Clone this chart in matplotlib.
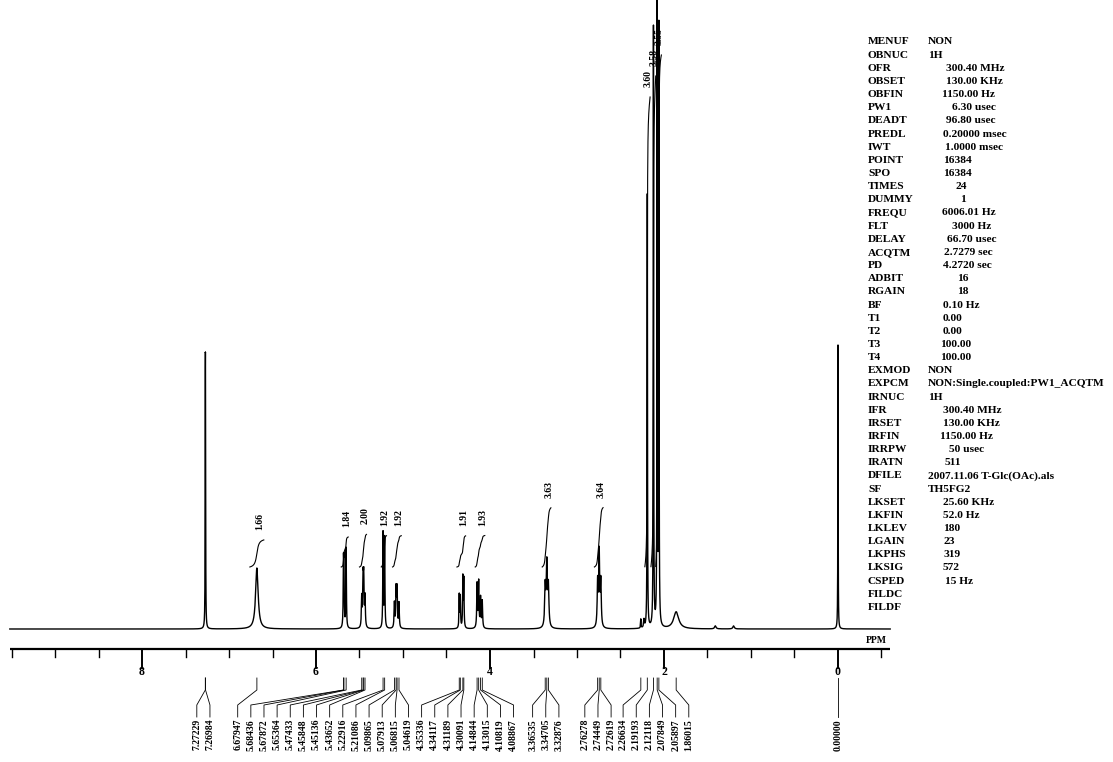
import numpy as np
import matplotlib
matplotlib.use("Agg")
import matplotlib.pyplot as plt

# ---------------- data ----------------
peak_ppm = [7.27229, 7.26984, 6.67947, 5.68436, 5.67872, 5.65364, 5.47433, 5.45848,
            5.45136, 5.43652, 5.22916, 5.21086, 5.09865, 5.07913, 5.06815, 5.04619,
            4.35336, 4.34117, 4.31189, 4.30091, 4.14844, 4.13015, 4.10819, 4.08867,
            3.36535, 3.34705, 3.32876, 2.76278, 2.74449, 2.72619, 2.26634, 2.19193,
            2.12118, 2.07849, 2.05897, 1.86015, 0.00000]
peak_height = [190, 190, 61, 58, 58, 80, 30, 45,
               45, 30, 95, 90, 25, 38, 38, 25,
               33, 31, 50, 48, 44, 46, 30, 27,
               40, 62, 40, 45, 74, 45, 9, 434,
               600, 624, 600, 17, 284]
peak_width = [0.004, 0.004, 0.035, 0.007, 0.007, 0.007, 0.009, 0.009,
              0.009, 0.009, 0.007, 0.007, 0.009, 0.009, 0.009, 0.009,
              0.007, 0.007, 0.007, 0.007, 0.009, 0.009, 0.009, 0.009,
              0.014, 0.014, 0.014, 0.012, 0.012, 0.012, 0.006, 0.005,
              0.005, 0.005, 0.005, 0.07, 0.004]
minor_ppm = [2.23, 1.41, 1.20]
minor_height = [8, 3, 3]
minor_width = [0.01, 0.02, 0.02]

int_start = [6.76, 5.71, 5.50, 5.25, 5.12, 4.38, 4.17, 3.40, 2.80, 2.22, 2.15, 2.095]
int_end = [6.60, 5.63, 5.42, 5.19, 5.02, 4.28, 4.06, 3.30, 2.70, 2.16, 2.095, 2.03]
int_value = [1.66, 1.84, 2.00, 1.92, 1.92, 1.91, 1.93, 3.63, 3.64, 3.60, 3.58, 3.55]
int_label = ["1.66", "1.84", "2.00", "1.92", "1.92", "1.91", "1.93", "3.63", "3.64",
             "3.60", "3.58", "3.55"]

major_ticks = [8, 6, 4, 2, 0]
major_labels = ["8", "6", "4", "2", "0"]

params_names = ["MENUF", "OBNUC", "OFR", "OBSET", "OBFIN", "PW1", "DEADT", "PREDL", "IWT",
                "POINT", "SPO", "TIMES", "DUMMY", "FREQU", "FLT", "DELAY", "ACQTM", "PD",
                "ADBIT", "RGAIN", "BF", "T1", "T2", "T3", "T4", "EXMOD", "EXPCM", "IRNUC",
                "IFR", "IRSET", "IRFIN", "IRRPW", "IRATN", "DFILE", "SF", "LKSET", "LKFIN",
                "LKLEV", "LGAIN", "LKPHS", "LKSIG", "CSPED", "FILDC", "FILDF"]
params_values = ["NON", "1H", "300.40 MHz", "130.00 KHz", "1150.00 Hz", "6.30 usec",
                 "96.80 usec", "0.20000 msec", "1.0000 msec", "16384", "16384", "24", "1",
                 "6006.01 Hz", "3000 Hz", "66.70 usec", "2.7279 sec", "4.2720 sec", "16",
                 "18", "0.10 Hz", "0.00", "0.00", "100.00", "100.00", "NON",
                 "NON:Single.coupled:PW1_ACQTM", "1H", "300.40 MHz", "130.00 KHz",
                 "1150.00 Hz", "50 usec", "511", "2007.11.06 T-Glc(OAc).als", "TH5FG2",
                 "25.60 KHz", "52.0 Hz", "180", "23", "319", "572", "15 Hz", "", ""]

# ---------------- layout ----------------
params_value_x = [928, 928, 946, 946, 942, 952, 946, 943, 945, 943, 943, 955, 960, 942,
                  952, 947, 944, 943, 957, 957, 943, 943, 943, 940, 940, 928, 928, 928,
                  943, 943, 940, 949, 945, 928, 928, 943, 943, 943, 943, 943, 943, 945,
                  943, 943]
# pixel row of the integral curve top when it runs off-scale among the tall peaks
int_top_px = [None] * 9 + [97, 76, 55]
label_group_sizes = [2, 22, 3, 3, 6, 1]
label_group_start = [7.37, 6.90, 3.51, 2.91, 2.47, 0.0]
label_spacing = 0.151

W, H = 1113, 762
X0, PXPPM = 838.0, 87.0      # pixel of 0 ppm, pixels per ppm
BASE = 629.0                 # baseline pixel row
INT_BASE = 62                # integral curve start above baseline
INT_SCALE = 16.3             # px per integral unit

fig = plt.figure(figsize=(W / 100, H / 100), dpi=100)
ax = fig.add_axes([0, 0, 1, 1])
ax.set_xlim(X0 / PXPPM, (X0 - W) / PXPPM)
ax.set_ylim(BASE - H, BASE)
ax.axis("off")

serif = "Liberation Serif"


def spectrum(xx, ppms, hs, ws):
    out = np.zeros_like(xx)
    for p, h, w in zip(ppms, hs, ws):
        out += h / (1 + (2 * (xx - p) / w) ** 2)
    return out


# spectrum
x = np.arange(-0.6, 9.52, 0.0004)
y = spectrum(x, peak_ppm + minor_ppm, peak_height + minor_height, peak_width + minor_width)
ax.plot(x, y, color="black", lw=1.0)

# integrals
dx = 0.0004
for s, e, v, lab, top in zip(int_start, int_end, int_value, int_label, int_top_px):
    xi = np.arange(s, e, -dx)
    c = np.cumsum(spectrum(xi, peak_ppm, peak_height, peak_width))
    c = c / c[-1]
    rise = v * INT_SCALE if top is None else (BASE - top) - INT_BASE
    curve = INT_BASE + c * rise
    ax.plot(xi, curve, color="black", lw=0.8)
    idx = min(np.searchsorted(c, 0.9), len(xi) - 1)
    ax.text(xi[idx], curve[-1] + 10, lab, rotation=90, ha="center", va="bottom",
            fontsize=7, family=serif, fontweight="bold")

# ppm axis
ax.plot([9.52, -0.6], [BASE - 649, BASE - 649], color="black", lw=1.6, solid_capstyle="butt")
for t in np.arange(-0.5, 9.51, 0.5):
    if abs(t - round(t)) < 1e-6 and int(round(t)) in major_ticks:
        ax.plot([t, t], [BASE - 649, BASE - 668], color="black", lw=1.4)
    else:
        ax.plot([t, t], [BASE - 649, BASE - 657], color="black", lw=1.0)
for t, lab in zip(major_ticks, major_labels):
    ax.text(t, BASE - 666, lab, ha="center", va="top", fontsize=8.5, family=serif,
            fontweight="bold")
ax.text((X0 - 876) / PXPPM, BASE - 645, "PPM", ha="center", va="bottom", fontsize=7,
        family=serif, fontweight="bold")

# peak labels with connectors
slots = []
for n, st in zip(label_group_sizes, label_group_start):
    slots += [st - i * label_spacing for i in range(n)]
for p, sx in zip(peak_ppm, slots):
    ax.plot([p, p, sx, sx], [BASE - 678, BASE - 690, BASE - 705, BASE - 717],
            color="black", lw=0.6)
    ax.text(sx, BASE - 719, f"{p:.5f}", rotation=90, ha="center", va="top", fontsize=7,
            family=serif, fontweight="bold")

# parameter block
for i, (nm, val, vx) in enumerate(zip(params_names, params_values, params_value_x)):
    yy = 42 + i * 13.15
    fig.text(868 / W, 1 - yy / H, nm, ha="left", va="center", fontsize=8.2, family=serif,
             fontweight="bold")
    if val:
        fig.text(vx / W, 1 - yy / H, val, ha="left", va="center", fontsize=8.2,
                 family=serif, fontweight="bold")

fig.savefig("out.png", dpi=100, facecolor="white")
